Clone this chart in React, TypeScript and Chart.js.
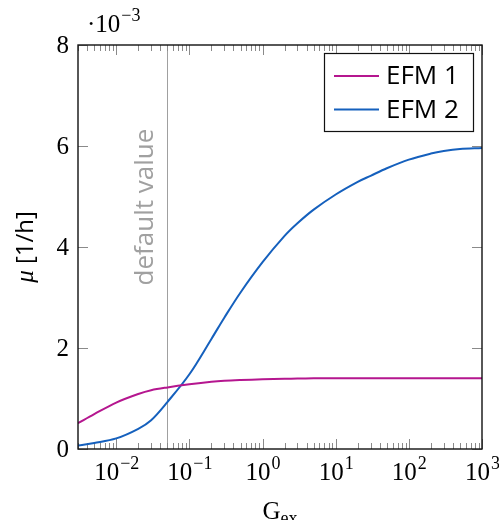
import React, { useEffect, useRef } from "react";
import { Chart, registerables } from "chart.js";

Chart.register(...registerables);

// G_ex values (log axis)
const gex = [0.003, 0.005, 0.01, 0.02, 0.03, 0.05, 0.1, 0.2, 0.3, 0.5, 1, 2, 3, 5, 10, 20, 30, 50, 100, 200, 300, 500, 1000];
// growth rate mu [1/h], in units of 1e-3
const efm1 = [0.51, 0.69, 0.92, 1.09, 1.165, 1.22, 1.28, 1.33, 1.35, 1.365, 1.38, 1.39, 1.395, 1.4, 1.4, 1.4, 1.4, 1.4, 1.4, 1.4, 1.4, 1.4, 1.4];
const efm2 = [0.07, 0.12, 0.21, 0.4, 0.57, 0.93, 1.48, 2.18, 2.6, 3.1, 3.7, 4.22, 4.47, 4.74, 5.04, 5.29, 5.41, 5.56, 5.73, 5.85, 5.9, 5.94, 5.96];
const seriesLabels = ["EFM 1", "EFM 2"];
const seriesColors = ["#b5168f", "#1560bd"];
const xMin = 0.003;
const xMax = 1000;
const xMajorExps = [-2, -1, 0, 1, 2, 3];
const yTicks = [0, 2, 4, 6, 8];
const yExponent = "−3";
const defaultValue = 0.05;
const defaultLabel = "default value";

const SERIF = "'Liberation Serif', 'DejaVu Serif', serif";
const SANS = "'Open Sans', 'Noto Sans', sans-serif";

const overlay = {
  id: "overlay",
  beforeDatasetsDraw(chart: any) {
    const { ctx, chartArea: a, scales } = chart;
    const x = scales.x;
    const px = Math.round(x.getPixelForValue(defaultValue)) + 0.5;
    ctx.save();
    ctx.strokeStyle = "#a0a0a0";
    ctx.lineWidth = 1;
    ctx.beginPath();
    ctx.moveTo(px, a.top);
    ctx.lineTo(px, a.bottom);
    ctx.stroke();
    // rotated label
    ctx.translate(px - 15, 207);
    ctx.rotate(-Math.PI / 2);
    ctx.fillStyle = "#a0a0a0";
    ctx.font = `26px ${SANS}`;
    ctx.textAlign = "center";
    ctx.textBaseline = "alphabetic";
    ctx.fillText(defaultLabel, 0, 0);
    ctx.restore();

    // ticks
    ctx.save();
    ctx.strokeStyle = "#8a8a8a";
    ctx.lineWidth = 1;
    const y = scales.y;
    const drawV = (xx: number, len: number) => {
      const p = Math.round(xx) + 0.5;
      ctx.beginPath();
      ctx.moveTo(p, a.bottom);
      ctx.lineTo(p, a.bottom - len);
      ctx.moveTo(p, a.top);
      ctx.lineTo(p, a.top + len);
      ctx.stroke();
    };
    for (let e = -3; e <= 3; e++) {
      for (let k = 1; k <= 9; k++) {
        const v = k * Math.pow(10, e);
        if (v < xMin * 0.999 || v > xMax * 1.001) continue;
        drawV(x.getPixelForValue(v), k === 1 ? 10 : 6);
      }
    }
    yTicks.forEach((t) => {
      const p = Math.round(y.getPixelForValue(t)) + 0.5;
      ctx.beginPath();
      ctx.moveTo(a.left, p);
      ctx.lineTo(a.left + 10, p);
      ctx.moveTo(a.right, p);
      ctx.lineTo(a.right - 10, p);
      ctx.stroke();
    });
    ctx.restore();
  },
  afterDraw(chart: any) {
    const { ctx, chartArea: a, scales } = chart;
    const x = scales.x;
    const y = scales.y;
    ctx.save();
    // border
    ctx.strokeStyle = "#111";
    ctx.lineWidth = 1.4;
    ctx.strokeRect(a.left, a.top, a.right - a.left, a.bottom - a.top);

    // y tick labels
    ctx.fillStyle = "#000";
    ctx.font = `25px ${SERIF}`;
    ctx.textAlign = "right";
    ctx.textBaseline = "middle";
    yTicks.forEach((t) => {
      ctx.fillText(String(t), a.left - 9, y.getPixelForValue(t) + 1);
    });

    // x tick labels: 10^e
    ctx.textAlign = "left";
    ctx.textBaseline = "alphabetic";
    xMajorExps.forEach((e) => {
      const cx = x.getPixelForValue(Math.pow(10, e));
      const base = "10";
      const sup = e < 0 ? "−" + Math.abs(e) : String(e);
      ctx.font = `25px ${SERIF}`;
      const wb = ctx.measureText(base).width;
      ctx.font = `18px ${SERIF}`;
      const ws = ctx.measureText(sup).width;
      const start = cx - (wb + ws) / 2;
      ctx.font = `25px ${SERIF}`;
      ctx.fillText(base, start, 480);
      ctx.font = `18px ${SERIF}`;
      ctx.fillText(sup, start + wb + 1, 469);
    });

    // exponent label top-left
    ctx.font = `25px ${SERIF}`;
    ctx.fillText("·10", 87, 32);
    const w10 = ctx.measureText("·10").width;
    ctx.font = `18px ${SERIF}`;
    ctx.fillText(yExponent, 87 + w10 + 1, 21);

    // x axis title G_ex
    ctx.font = `25px ${SERIF}`;
    const wG = ctx.measureText("G").width;
    ctx.font = `18px ${SERIF}`;
    const wex = ctx.measureText("ex").width;
    const gx = (a.left + a.right) / 2 - (wG + wex) / 2;
    ctx.font = `25px ${SERIF}`;
    ctx.fillText("G", gx, 519);
    ctx.font = `18px ${SERIF}`;
    ctx.fillText("ex", gx + wG, 524);

    // y axis title: mu [1/h]
    ctx.save();
    ctx.translate(33, 247);
    ctx.rotate(-Math.PI / 2);
    ctx.font = `italic 25px ${SERIF}`;
    const wmu = ctx.measureText("μ ").width;
    ctx.font = `24px ${SANS}`;
    const wu = ctx.measureText("[1/h]").width;
    const sx = -(wmu + wu) / 2;
    ctx.font = `italic 25px ${SERIF}`;
    ctx.fillText("μ", sx, 0);
    ctx.font = `24px ${SANS}`;
    ctx.fillText("[1/h]", sx + wmu, 0);
    ctx.restore();

    // legend
    const lx = 324.5, ly = 53.5, lw = 149, lh = 78;
    ctx.fillStyle = "#fff";
    ctx.fillRect(lx, ly, lw, lh);
    ctx.strokeStyle = "#111";
    ctx.lineWidth = 1.2;
    ctx.strokeRect(lx, ly, lw, lh);
    chart.data.datasets.forEach((ds: any, i: number) => {
      const yy = 76 + i * 33.5;
      ctx.strokeStyle = ds.borderColor;
      ctx.lineWidth = 2;
      ctx.beginPath();
      ctx.moveTo(334, yy);
      ctx.lineTo(379, yy);
      ctx.stroke();
      ctx.fillStyle = "#000";
      ctx.font = `26px ${SANS}`;
      ctx.textAlign = "left";
      ctx.textBaseline = "alphabetic";
      ctx.fillText(ds.label, 386, yy + 8);
    });
    ctx.restore();
  },
};

export default function App() {
  const ref = useRef<HTMLCanvasElement | null>(null);
  useEffect(() => {
    if (!ref.current) return;
    const chart = new Chart(ref.current, {
      type: "line",
      data: {
        datasets: [efm1, efm2].map((vals, i) => ({
          label: seriesLabels[i],
          data: gex.map((g, j) => ({ x: g, y: vals[j] })),
          borderColor: seriesColors[i],
          backgroundColor: seriesColors[i],
          borderWidth: 2,
          pointRadius: 0,
          tension: 0.35,
          fill: false,
        })),
      },
      options: {
        animation: false,
        responsive: false,
        events: [],
        layout: { padding: { left: 78, right: 17, top: 45, bottom: 71 } },
        plugins: { legend: { display: false }, tooltip: { enabled: false } },
        scales: {
          x: { type: "logarithmic", min: xMin, max: xMax, display: false },
          y: { type: "linear", min: 0, max: 8, display: false },
        },
      },
      plugins: [overlay],
    });
    return () => chart.destroy();
  }, []);
  return (
    <div style={{ position: "fixed", left: 0, top: 0, width: 499, height: 520, background: "#fff" }}>
      <canvas ref={ref} width={499} height={520} style={{ display: "block" }} />
    </div>
  );
}
